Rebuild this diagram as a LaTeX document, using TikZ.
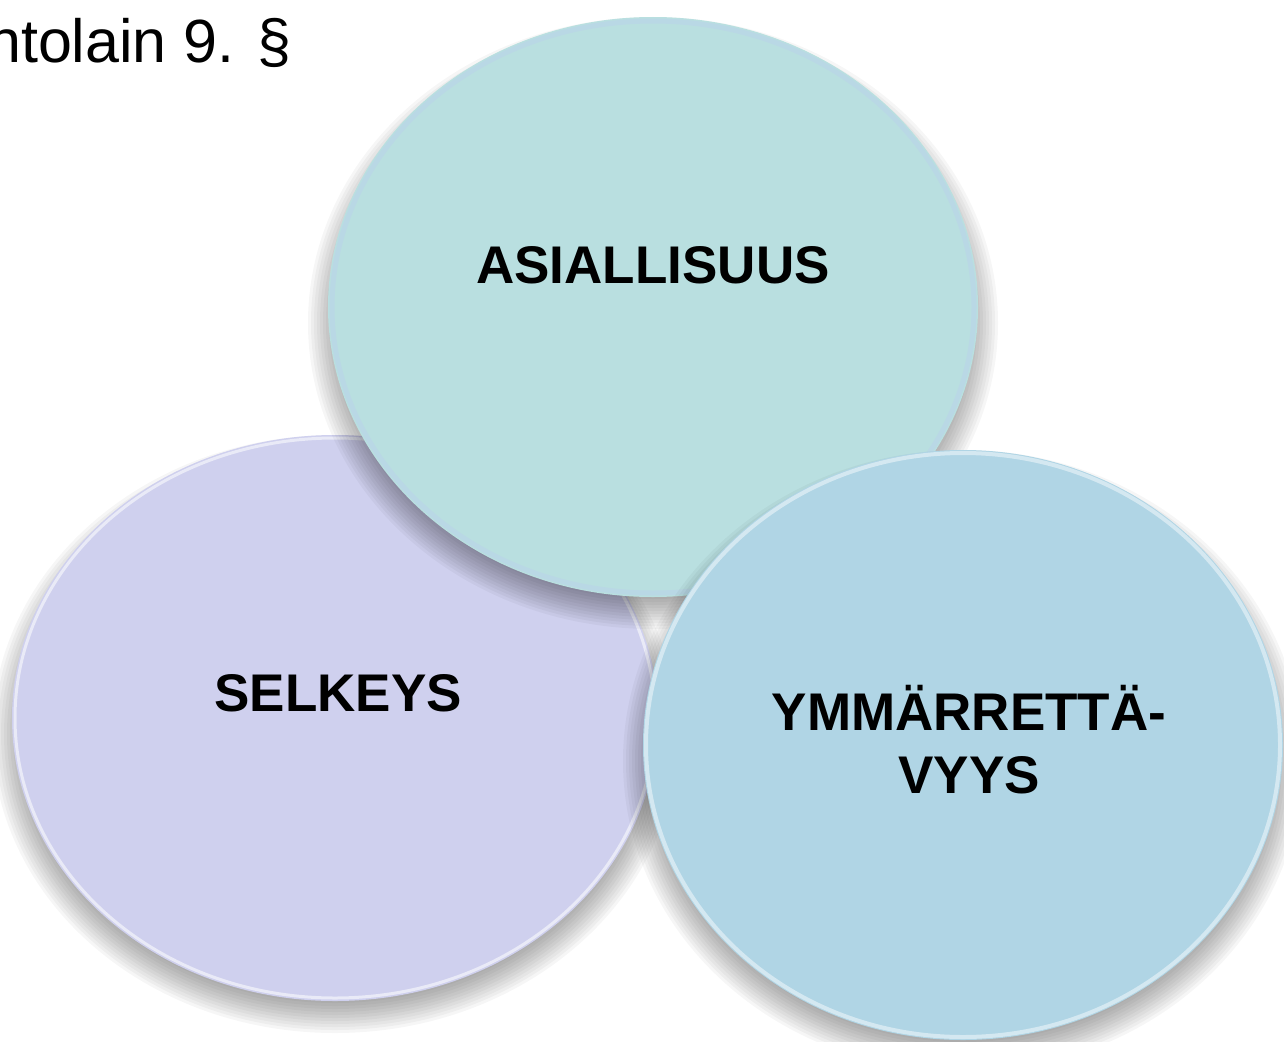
\documentclass[tikz,border=0pt]{standalone}
\usepackage{fontspec}
\setmainfont{Liberation Sans}
\definecolor{teal1}{HTML}{B9DFE0}
\definecolor{lav1}{HTML}{CFD0EE}
\definecolor{blu1}{HTML}{B0D5E5}
\newcommand\softsh[4]{%
  \foreach \k in {0,...,11}{%
    \fill[black, opacity=0.034] (#1,#2+16) ellipse [x radius=#3+20-3*\k, y radius=#4+16-3*\k];}}
\tikzset{
  lbl/.style={font=\bfseries\fontsize{53}{63}\selectfont, align=center, text=black}
}
\begin{document}
\begin{tikzpicture}[x=1pt,y=-1pt]
\useasboundingbox (0,0) rectangle (1284,1041);
% lavender (bottom)
\softsh{335}{718}{323}{283}
\fill[lav1] (335,718) ellipse [x radius=323, y radius=283];
\draw[white!55!lav1, line width=3pt] (335,718) ellipse [x radius=320, y radius=280];
% teal (middle)
\softsh{653}{307}{325}{290}
\fill[teal1] (653,307) ellipse [x radius=325, y radius=290];
\draw[white!50!cyan!15!teal1, line width=5pt] (653,307) ellipse [x radius=321, y radius=286];
% light blue (top)
\softsh{963}{745}{320}{295}
\fill[blu1] (963,745) ellipse [x radius=320, y radius=295];
\draw[white!45!blu1, line width=4pt] (963,745) ellipse [x radius=317, y radius=292];
% labels
\node[lbl] (asia) at (653,265) {ASIALLISUUS};
\node[lbl] (selk) at (338,693) {SELKEYS};
\node[lbl] (ymma) at (969,740) {YMMÄRRETTÄ-\\VYYS};
% title
\node[anchor=west, inner sep=0pt, font=\fontsize{61}{70}\selectfont] (title) at (-13,43) {ntolain 9. §};
\end{tikzpicture}
\end{document}
